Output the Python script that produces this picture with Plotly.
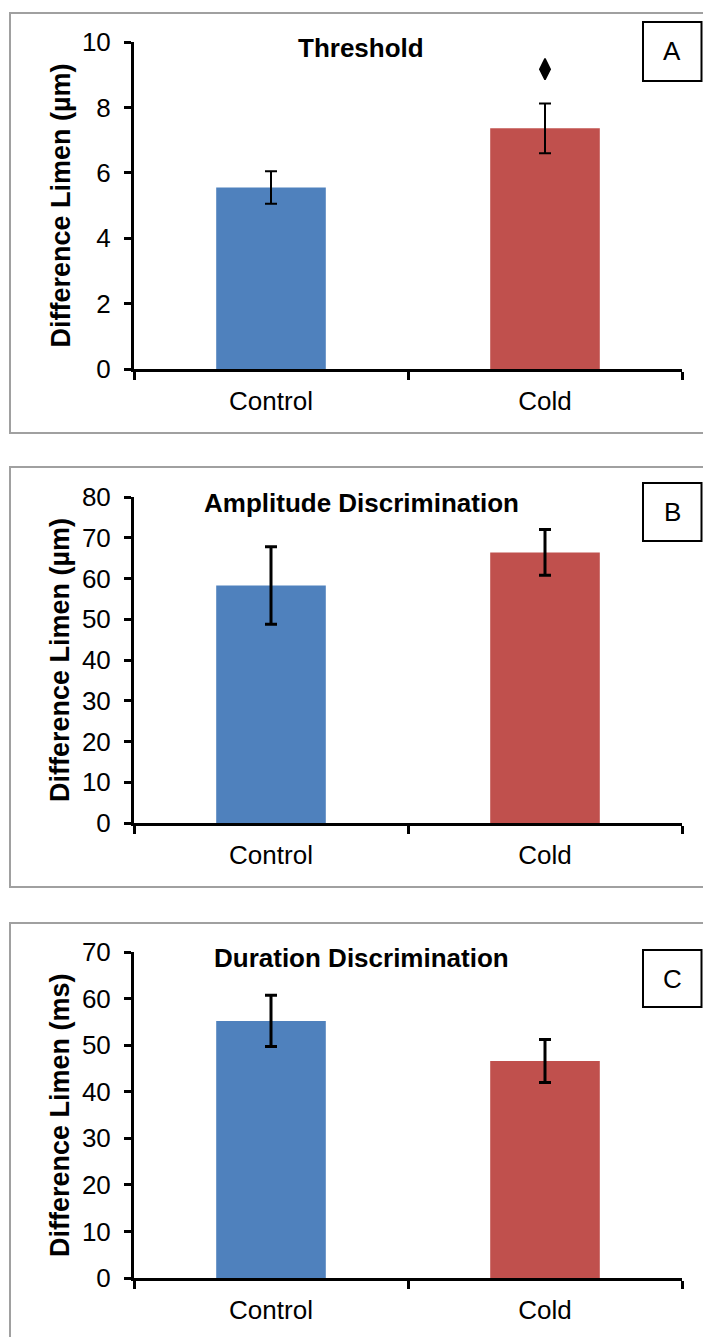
import plotly.graph_objects as go

W, H = 703, 1337

categories = ["Control", "Cold"]
colors = ["#4F81BD", "#C0504D"]

threshold_mean = [5.55, 7.36]
threshold_err = [0.50, 0.76]
amplitude_mean = [58.3, 66.4]
amplitude_err = [9.5, 5.6]
duration_mean = [55.2, 46.6]
duration_err = [5.5, 4.6]

panel_titles = ["Threshold", "Amplitude Discrimination", "Duration Discrimination"]
panel_letters = ["A", "B", "C"]
y_titles = ["Difference Limen (µm)", "Difference Limen (µm)", "Difference Limen (ms)"]
y_ranges = [[0, 10], [0, 80], [0, 70]]
y_dticks = [2, 10, 10]
sig_marker_y = [None, 9.17]  # diamond above Cold in panel A

FONT = "Liberation Sans, Arial, sans-serif"

def py(p):
    return 1 - p / H

def px(p):
    return p / W

# pixel geometry of each panel
panels = [
    dict(at=42, ab=369, bt=13, bb=433, kt=22, kb=81, ty=48),
    dict(at=497, ab=823, bt=467, bb=887, kt=483, kb=541, ty=503),
    dict(at=952, ab=1278, bt=923, bb=1345, kt=950, kb=1007, ty=958),
]
err_thick = [2, 3, 3]

means = [threshold_mean, amplitude_mean, duration_mean]
errs = [threshold_err, amplitude_err, duration_err]

fig = go.Figure()
shapes = []
annotations = []

for i in range(3):
    xa = "x" if i == 0 else f"x{i+1}"
    ya = "y" if i == 0 else f"y{i+1}"
    fig.add_trace(go.Bar(
        x=categories, y=means[i], xaxis=xa, yaxis=ya,
        marker=dict(color=colors, line=dict(width=0)),
        width=0.4,
        error_y=dict(type="data", array=errs[i], color="black",
                     thickness=err_thick[i], width=6),
        showlegend=False,
    ))
    p = panels[i]
    dom_y = [py(p["ab"]), py(p["at"])]
    xkey = "xaxis" if i == 0 else f"xaxis{i+1}"
    ykey = "yaxis" if i == 0 else f"yaxis{i+1}"
    fig.update_layout(**{
        xkey: dict(domain=[px(134), px(682)], anchor=ya, type="category",
                   tickson="boundaries", ticks="outside", ticklen=8, tickwidth=3,
                   tickcolor="black", showline=True, linewidth=3, linecolor="black",
                   showgrid=False, zeroline=False, automargin=False,
                   ticklabelstandoff=7,
                   tickfont=dict(family=FONT, size=26, color="black"),
                   range=[-0.5, 1.5], fixedrange=True),
        ykey: dict(domain=dom_y, anchor=xa, range=y_ranges[i], dtick=y_dticks[i],
                   ticks="outside", ticklen=7, tickwidth=3, tickcolor="black",
                   showline=True, linewidth=3, linecolor="black",
                   showgrid=False, zeroline=False, automargin=False,
                   ticklabelstandoff=8,
                   tickfont=dict(family=FONT, size=26, color="black"),
                   fixedrange=True),
    })
    # panel border
    shapes.append(dict(type="rect", xref="paper", yref="paper",
                       x0=px(10), x1=px(712), y0=py(p["bb"]), y1=py(p["bt"]),
                       line=dict(color="#A0A0A0", width=2), layer="below"))
    # letter box
    shapes.append(dict(type="rect", xref="paper", yref="paper",
                       x0=px(643), x1=px(701.5), y0=py(p["kb"]), y1=py(p["kt"]),
                       line=dict(color="black", width=2), fillcolor="white"))
    annotations.append(dict(text=panel_letters[i], xref="paper", yref="paper",
                            x=px(672), y=py((p["kt"] + p["kb"]) / 2),
                            showarrow=False, xanchor="center", yanchor="middle",
                            font=dict(family=FONT, size=26, color="black")))
    annotations.append(dict(text="<b>" + panel_titles[i] + "</b>", xref="paper", yref="paper",
                            x=px(361), y=py(p["ty"]), showarrow=False,
                            xanchor="center", yanchor="middle",
                            font=dict(family=FONT, size=26, color="black")))
    annotations.append(dict(text="<b>" + y_titles[i] + "</b>", xref="paper", yref="paper",
                            x=px(60), y=py((p["at"] + p["ab"]) / 2), textangle=-90,
                            showarrow=False, xanchor="center", yanchor="middle",
                            font=dict(family=FONT, size=27, color="black")))

# significance diamond
fig.add_trace(go.Scatter(
    x=[c for c, v in zip(categories, sig_marker_y) if v is not None],
    y=[v for v in sig_marker_y if v is not None],
    xaxis="x", yaxis="y", mode="markers",
    marker=dict(symbol="diamond-tall", size=15, color="black",
                line=dict(color="black", width=1.5)),
    showlegend=False, cliponaxis=False,
))

fig.update_layout(
    width=W, height=H, margin=dict(l=0, r=0, t=0, b=0, autoexpand=False),
    paper_bgcolor="white", plot_bgcolor="white",
    shapes=shapes, annotations=annotations,
    showlegend=False,
)

fig.write_html(
    "out.html",
    config={"displayModeBar": False},
    post_script="document.body.style.margin='0';document.body.style.overflow='hidden';",
)
